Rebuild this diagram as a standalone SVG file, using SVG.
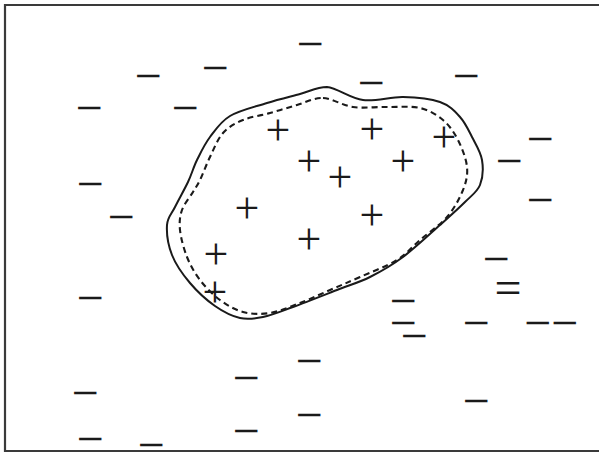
<svg xmlns="http://www.w3.org/2000/svg" width="599" height="453" viewBox="0 0 599 453">
<style>
.sym{font-family:"Liberation Serif","Times New Roman",serif;font-size:48px;fill:#1a1a1a;text-anchor:middle}
.p{font-size:44px}
.outline{fill:none;stroke:#1a1a1a;stroke-width:2;stroke-linejoin:round}
.dash{stroke-dasharray:6 4;stroke-width:2.1}
</style>
<rect width="599" height="453" fill="#ffffff"/>
<g id="frame"><path d="M 603 5 L 5 5 L 5 451 L 603 451" fill="none" stroke="#3a3a3a" stroke-width="2.2"/></g>
<g id="region">
<path class="outline" d="M 327 87 C 337.5 88, 350.3 98.3, 363 100 C 375.7 101.7, 390.2 96.7, 403 97 C 415.8 97.3, 430.5 98.7, 440 102 C 449.5 105.3, 454.7 111.2, 460 117 C 465.3 122.8, 468.3 129.8, 472 137 C 475.7 144.2, 480.7 152, 482 160 C 483.3 168, 482.8 178, 480 185 C 477.2 192, 471.7 195.3, 465 202 C 458.3 208.7, 450.3 215.8, 440 225 C 429.7 234.2, 414.7 248.3, 403 257 C 391.3 265.7, 381 271.5, 370 277 C 359 282.5, 349.8 285, 337 290 C 324.2 295, 305.3 302.5, 293 307 C 280.7 311.5, 271.8 315.2, 263 317 C 254.2 318.8, 248 319.8, 240 318 C 232 316.2, 223.3 311.8, 215 306 C 206.7 300.2, 197.2 291.5, 190 283 C 182.8 274.5, 175.8 264.7, 172 255 C 168.2 245.3, 166.5 233, 167 225 C 167.5 217, 171.5 214.2, 175 207 C 178.5 199.8, 184.3 189.8, 188 182 C 191.7 174.2, 193.3 167.5, 197 160 C 200.7 152.5, 204.5 144.3, 210 137 C 215.5 129.7, 220.5 121.7, 230 116 C 239.5 110.3, 255.3 106.7, 267 103 C 278.7 99.3, 290 96.7, 300 94 C 310 91.3, 316.5 87, 327 87 Z"/>
<path class="outline dash" d="M 323 98 C 332.3 98.3, 342.3 105.5, 353 107 C 363.7 108.5, 375.8 106.8, 387 107 C 398.2 107.2, 410.7 105.8, 420 108 C 429.3 110.2, 436.7 114.7, 443 120 C 449.3 125.3, 454 132.2, 458 140 C 462 147.8, 466.2 158.7, 467 167 C 467.8 175.3, 466.3 181.7, 463 190 C 459.7 198.3, 454.2 208.7, 447 217 C 439.8 225.3, 428.3 232.8, 420 240 C 411.7 247.2, 407 253.8, 397 260 C 387 266.2, 371.2 272, 360 277 C 348.8 282, 340 285.7, 330 290 C 320 294.3, 310 299.2, 300 303 C 290 306.8, 279.5 311.5, 270 313 C 260.5 314.5, 251.3 314.2, 243 312 C 234.7 309.8, 227.2 305.3, 220 300 C 212.8 294.7, 205.5 287.2, 200 280 C 194.5 272.8, 190.3 265.3, 187 257 C 183.7 248.7, 180.8 237.8, 180 230 C 179.2 222.2, 179.8 216.3, 182 210 C 184.2 203.7, 190 197, 193 192 C 196 187, 197.2 185.8, 200 180 C 202.8 174.2, 206.2 164.8, 210 157 C 213.8 149.2, 217.5 139.2, 223 133 C 228.5 126.8, 235.2 123.3, 243 120 C 250.8 116.7, 261 115.5, 270 113 C 279 110.5, 288.2 107.5, 297 105 C 305.8 102.5, 313.7 97.7, 323 98 Z"/>
</g>
<g id="positives" class="sym p">
<text x="278" y="145">+</text>
<text x="372" y="144">+</text>
<text x="444" y="152">+</text>
<text x="309" y="176">+</text>
<text x="403" y="176">+</text>
<text x="340" y="192">+</text>
<text x="247" y="223">+</text>
<text x="372" y="230">+</text>
<text x="309" y="254">+</text>
<text x="216" y="269">+</text>
<text x="215" y="307">+</text>
</g>
<g id="negatives" class="sym">
<text x="310" y="60">−</text>
<text x="148" y="92">−</text>
<text x="215" y="84">−</text>
<text x="371" y="99">−</text>
<text x="466" y="92">−</text>
<text x="89" y="124">−</text>
<text x="185" y="124">−</text>
<text x="540" y="155">−</text>
<text x="509" y="177">−</text>
<text x="90" y="200">−</text>
<text x="121" y="233">−</text>
<text x="540" y="216">−</text>
<text x="496" y="275">−<tspan x="508" dy="28.5">=</tspan></text>
<text x="403" y="317">−<tspan x="403" dy="22">−</tspan><tspan x="414" dy="13">−</tspan></text>
<text x="90" y="314">−</text>
<text x="476" y="339">−</text>
<text x="551" y="339">−−</text>
<text x="309" y="377">−</text>
<text x="246" y="394">−</text>
<text x="85" y="409">−</text>
<text x="476" y="417">−</text>
<text x="309" y="431">−</text>
<text x="246" y="447">−</text>
<text x="90" y="455">−</text>
<text x="151" y="461">−</text>
</g>
</svg>
